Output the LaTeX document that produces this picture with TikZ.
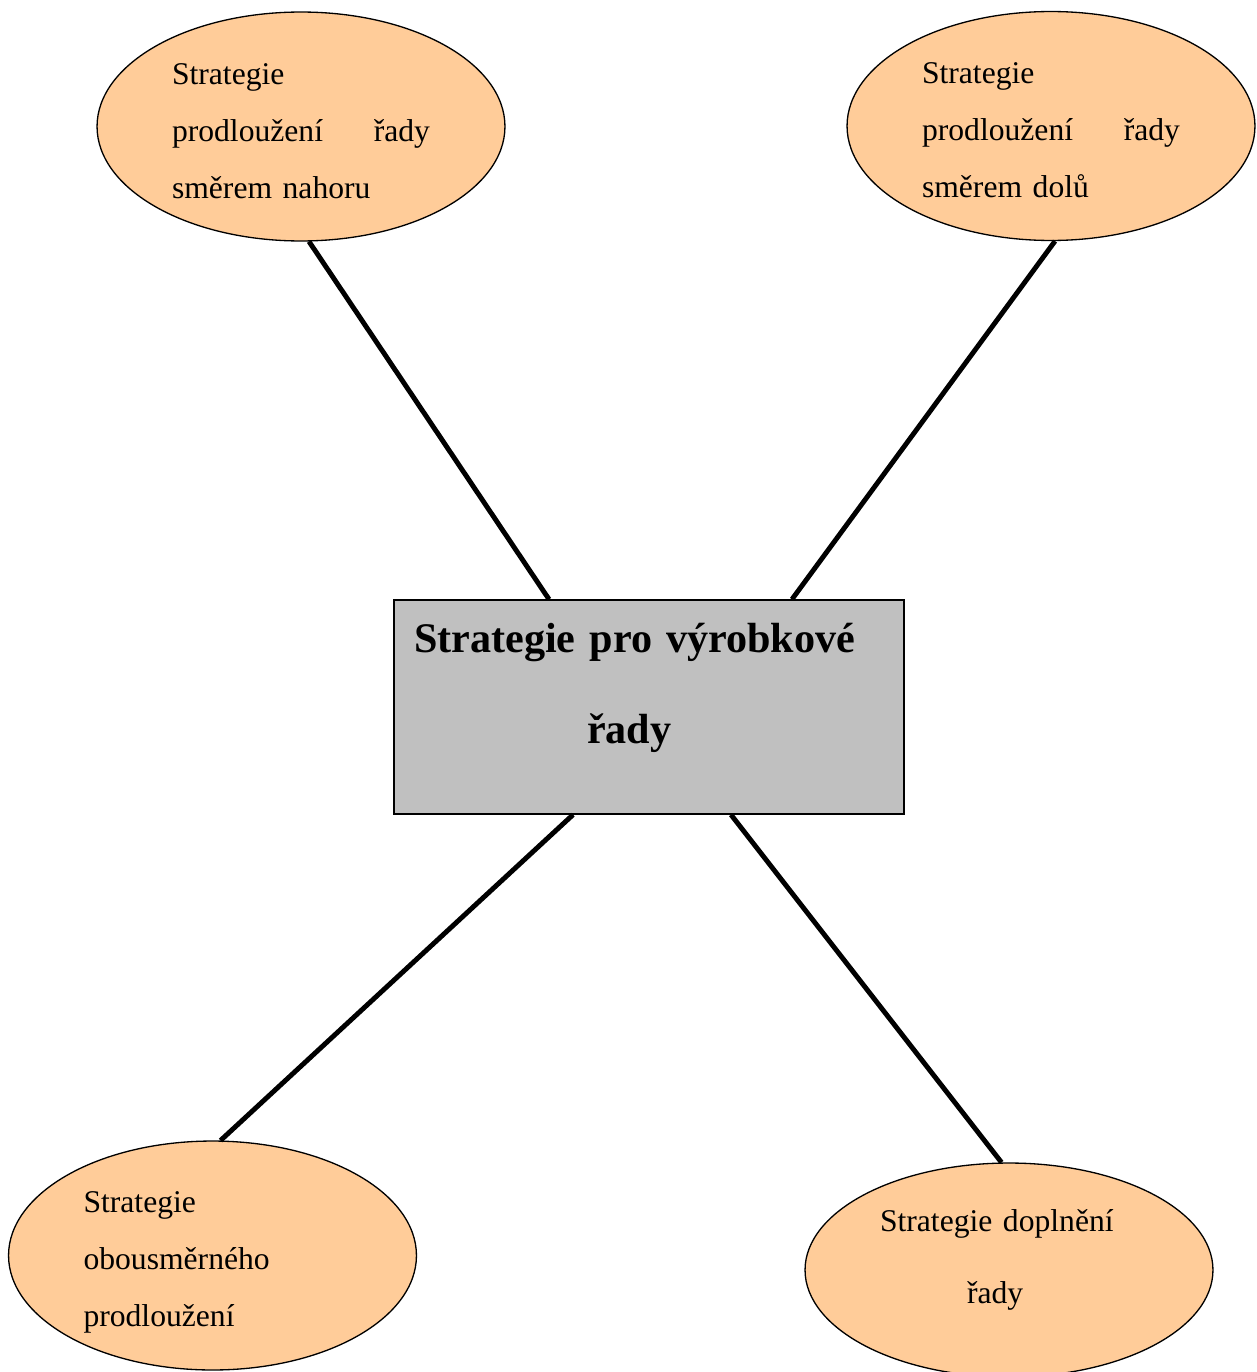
\documentclass[tikz,border=0pt]{standalone}
\usepackage{fontspec}
\setmainfont{Liberation Serif}
\usetikzlibrary{shapes.geometric, calc}
\definecolor{peach}{RGB}{255,204,153}
\definecolor{boxgray}{RGB}{192,192,192}

\begin{document}
\begin{tikzpicture}[x=0.02cm, y=-0.02cm,
        oval/.style={ellipse, draw, line width=0.75pt, fill=peach, inner sep=0pt,
            minimum width=8.16cm, minimum height=4.58cm, text width=5.16cm, align=left,
            font=\fontsize{18pt}{32.4pt}\selectfont},
        mainbox/.style={rectangle, draw, line width=0.8pt, fill=boxgray, inner xsep=0.4cm, inner ysep=0pt,
            minimum width=10.2cm, minimum height=4.28cm, text width=9.4cm, align=left,
            font=\bfseries\fontsize{24pt}{51.8pt}\selectfont},
        link/.style={line width=2.8pt}]
            \useasboundingbox (0,0) rectangle (1257,1372);

            \node[oval] (upward) at (301,126.5) {\rule{0pt}{0.6cm}Strategie\\ \makebox[5.16cm][s]{prodloužení\hfill řady}\\ směrem nahoru};
            \node[oval] (downward) at (1051,126) {\rule{0pt}{0.6cm}Strategie\\ \makebox[5.16cm][s]{prodloužení\hfill řady}\\ směrem dolů};
            \node[oval] (twoway) at (212.5,1255.5) {\rule{0pt}{0.7cm}Strategie\\ obousměrného\\ prodloužení};
            \node[oval, minimum height=4.28cm, font=\fontsize{18pt}{41.5pt}\selectfont] (filling) at (1009,1270)
                {Strategie doplnění\\ \hspace*{1.74cm}řady\rule[-0.54cm]{0pt}{0.54cm}};

            \node[mainbox] (lines) at (649,707) {Strategie pro výrobkové\\ \hspace*{3.46cm}řady\rule[-0.96cm]{0pt}{0.96cm}};

            \draw[link] (upward.-86) -- ([xshift=-2cm]lines.north);
            \draw[link] (downward.-88) -- ([xshift=2.86cm]lines.north);
            \draw[link] ([xshift=-1.52cm]lines.south) -- (twoway.86);
            \draw[link] ([xshift=1.64cm]lines.south) -- (filling.94);
        \end{tikzpicture}
\end{document}
